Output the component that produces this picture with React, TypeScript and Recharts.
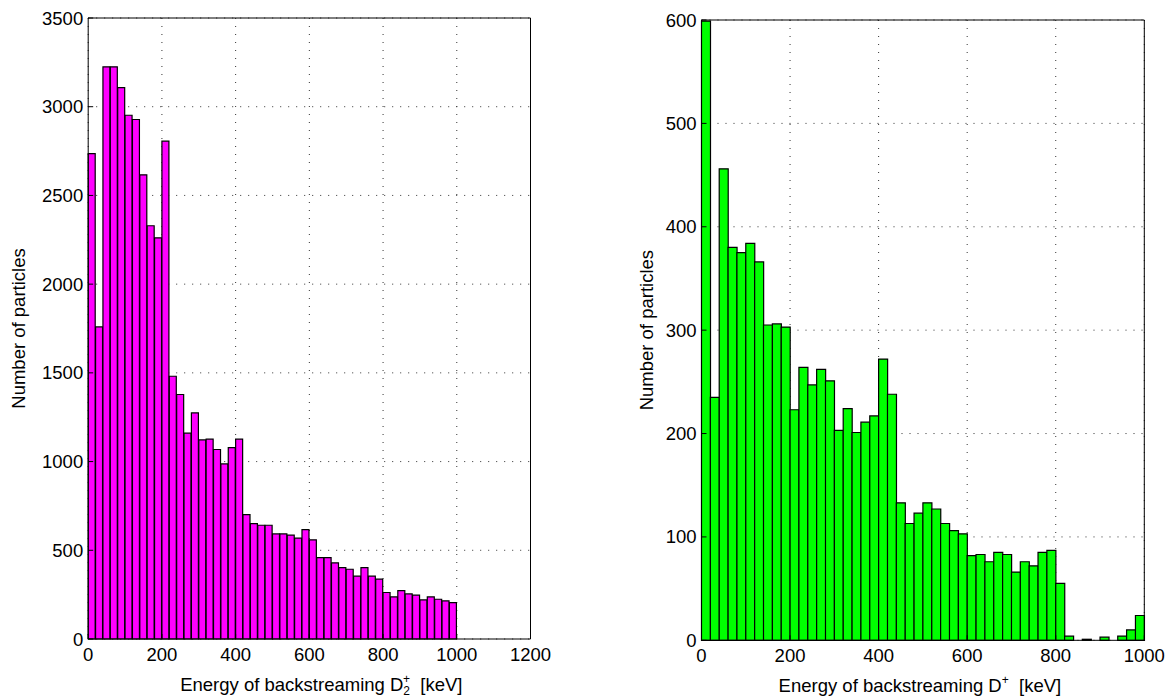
import React from 'react';
import { BarChart, Bar, XAxis, YAxis, CartesianGrid } from 'recharts';

// Energy bin centres (keV), 20 keV bins from 0 to 1000
const binCenters = [
  10, 30, 50, 70, 90, 110, 130, 150, 170, 190,
  210, 230, 250, 270, 290, 310, 330, 350, 370, 390,
  410, 430, 450, 470, 490, 510, 530, 550, 570, 590,
  610, 630, 650, 670, 690, 710, 730, 750, 770, 790,
  810, 830, 850, 870, 890, 910, 930, 950, 970, 990,
];

// Left: backstreaming D2+ counts
const d2Counts = [
  2736, 1759, 3225, 3225, 3108, 2952, 2928, 2616, 2329, 2261,
  2806, 1481, 1378, 1160, 1274, 1122, 1126, 1068, 987, 1079,
  1126, 701, 650, 641, 641, 592, 592, 585, 568, 617,
  559, 459, 459, 429, 402, 393, 354, 402, 354, 337,
  262, 237, 273, 254, 247, 220, 237, 224, 215, 205,
];

// Right: backstreaming D+ counts
const dCounts = [
  599, 235, 456, 380, 375, 384, 366, 305, 306, 303,
  223, 264, 247, 262, 251, 203, 224, 201, 211, 217,
  272, 238, 133, 113, 123, 133, 127, 113, 106, 103,
  82, 83, 76, 85, 83, 66, 76, 72, 85, 87,
  55, 4, 0, 1, 0, 3, 0, 4, 10, 24,
];

const d2XTicks = [0, 200, 400, 600, 800, 1000, 1200];
const dXTicks = [0, 200, 400, 600, 800, 1000];
const d2YTicks = [0, 500, 1000, 1500, 2000, 2500, 3000, 3500];
const dYTicks = [0, 100, 200, 300, 400, 500, 600];

const d2Data = binCenters.map((e, i) => ({ energy: e, count: d2Counts[i] }));
const dData = binCenters.map((e, i) => ({ energy: e, count: dCounts[i] }));

const FONT = '"Liberation Sans", Arial, Helvetica, sans-serif';
const FS = 18.5;

type HistProps = {
  left: number;
  width: number;
  height: number;
  margin: { top: number; right: number; bottom: number; left: number };
  data: { energy: number; count: number }[];
  fill: string;
  xTicks: number[];
  yTicks: number[];
  xMax: number;
  yMax: number;
  ionSub: string | null;
  titleShift: number;
  yTitleX: number;
};

function Histogram(p: HistProps) {
  const tickStyle = { fill: '#000', fontSize: FS, fontFamily: FONT };
  const axisLine = { stroke: '#000', strokeWidth: 1 };
  return (
    <div style={{ position: 'absolute', left: p.left, top: 0, width: p.width, height: p.height }}>
      <BarChart
        width={p.width}
        height={p.height}
        data={p.data}
        margin={p.margin}
        barCategoryGap={0}
        barGap={0}
      >
        <CartesianGrid stroke="#333" strokeWidth={1} strokeDasharray="1 7" />
        <XAxis
          dataKey="energy"
          type="number"
          domain={[0, p.xMax]}
          ticks={p.xTicks}
          interval={0}
          height={40}
          tickSize={-5}
          tickMargin={14}
          tick={tickStyle}
          axisLine={axisLine}
          tickLine={axisLine}
          label={{
            content: (lp: any) => {
              const vb = lp.viewBox;
              const cx = vb.x + vb.width / 2 + p.titleShift;
              const y = vb.y + 52;
              return (
                <text x={cx} y={y} textAnchor="middle" fontFamily={FONT} fontSize={FS} fill="#000">
                  <tspan>Energy of backstreaming D</tspan>
                  {p.ionSub ? (
                    <>
                      <tspan fontSize={12} dy={4}>{p.ionSub}</tspan>
                      <tspan fontSize={12} dx={-7} dy={-12}>+</tspan>
                      <tspan dy={8} dx={0}>{'\u00a0\u00a0[keV]'}</tspan>
                    </>
                  ) : (
                    <>
                      <tspan fontSize={12} dy={-8}>+</tspan>
                      <tspan dy={8}>{'\u00a0\u00a0[keV]'}</tspan>
                    </>
                  )}
                </text>
              );
            },
          }}
        />
        <XAxis
          xAxisId="top"
          orientation="top"
          dataKey="energy"
          type="number"
          domain={[0, p.xMax]}
          ticks={p.xTicks}
          interval={0}
          height={1}
          tickSize={-5}
          tick={false}
          axisLine={axisLine}
          tickLine={axisLine}
        />
        <YAxis
          type="number"
          domain={[0, p.yMax]}
          ticks={p.yTicks}
          interval={0}
          width={70}
          tickSize={-5}
          tickMargin={10}
          tick={tickStyle}
          axisLine={axisLine}
          tickLine={axisLine}
          label={{
            content: () => {
              const cy = p.margin.top + 1 + (p.height - p.margin.top - 1 - p.margin.bottom - 40) / 2;
              return (
                <text
                  x={p.yTitleX}
                  y={cy}
                  transform={`rotate(-90, ${p.yTitleX}, ${cy})`}
                  textAnchor="middle"
                  dominantBaseline="central"
                  fontFamily={FONT}
                  fontSize={FS}
                  fill="#000"
                >
                  Number of particles
                </text>
              );
            },
          }}
        />
        <YAxis
          yAxisId="right"
          orientation="right"
          type="number"
          domain={[0, p.yMax]}
          ticks={p.yTicks}
          interval={0}
          width={1}
          tickSize={-5}
          tick={false}
          axisLine={axisLine}
          tickLine={axisLine}
        />
        <Bar
          dataKey="count"
          fill={p.fill}
          stroke="#000"
          strokeWidth={1.2}
          isAnimationActive={false}
        />
      </BarChart>
    </div>
  );
}

export default function App() {
  return (
    <div
      style={{
        position: 'absolute',
        left: 0,
        top: 0,
        width: 1172,
        height: 699,
        background: '#fff',
        overflow: 'hidden',
      }}
    >
      <Histogram
        left={0}
        width={580}
        height={699}
        margin={{ top: 17, right: 48.5, bottom: 20, left: 18.2 }}
        data={d2Data}
        fill="#ff00ff"
        xTicks={d2XTicks}
        yTicks={d2YTicks}
        xMax={1200}
        yMax={3500}
        ionSub="2"
        titleShift={12}
        yTitleX={18}
      />
      <Histogram
        left={590}
        width={582}
        height={699}
        margin={{ top: 19, right: 26.7, bottom: 18.7, left: 41.5 }}
        data={dData}
        fill="#00ff00"
        xTicks={dXTicks}
        yTicks={dYTicks}
        xMax={1000}
        yMax={600}
        ionSub={null}
        titleShift={-3}
        yTitleX={57}
      />
    </div>
  );
}
